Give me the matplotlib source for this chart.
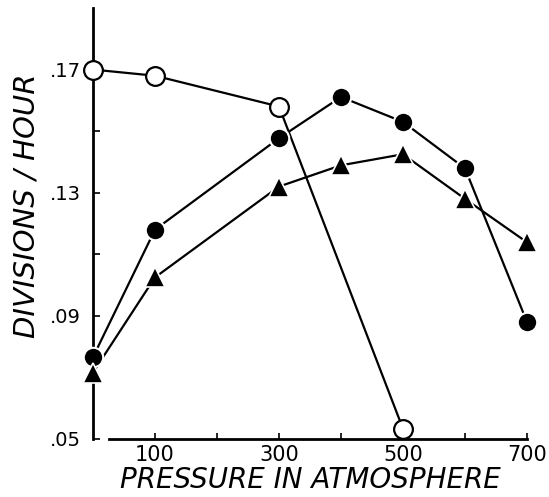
import matplotlib
matplotlib.use("Agg")
import matplotlib.pyplot as plt
from matplotlib.ticker import FixedLocator, FixedFormatter

# pressure (atm) and division rates
pressure = [0, 100, 300, 400, 500, 600, 700]

open_x = [0, 100, 300, 500]
open_y = [0.170, 0.168, 0.158, 0.0533]

filled_circle_y = [0.0766, 0.118, 0.1477, 0.1611, 0.153, 0.1379, 0.088]
triangle_y = [0.0716, 0.1025, 0.132, 0.1389, 0.1425, 0.128, 0.1139]

x_major = [100, 300, 500, 700]
x_minor = [200, 400, 600]
y_major = [0.05, 0.09, 0.13, 0.17]
y_minor = [0.07, 0.11, 0.15]
y_labels = [".05", ".09", ".13", ".17"]


def main():
    fig = plt.figure(figsize=(5.49, 4.97), dpi=100)
    ax = fig.add_axes([93 / 549, 58 / 497, 434 / 549, 431 / 497])
    ax.set_xlim(0, 700)
    ax.set_ylim(0.05, 0.19)

    lw = 1.6
    ax.plot(pressure, filled_circle_y, color="black", lw=lw, zorder=2, clip_on=False)
    ax.plot(pressure, triangle_y, color="black", lw=lw, zorder=2, clip_on=False)
    ax.plot(open_x, open_y, color="black", lw=lw, zorder=2, clip_on=False)

    ax.plot(pressure, filled_circle_y, "o", ms=14, mfc="black", mec="white",
            mew=1.5, zorder=3, clip_on=False)
    ax.plot(pressure, triangle_y, "^", ms=14, mfc="black", mec="white",
            mew=1.2, zorder=3, clip_on=False)
    ax.plot(open_x, open_y, "o", ms=13.5, mfc="white", mec="black",
            mew=1.6, zorder=4, clip_on=False)

    for s in ["top", "right"]:
        ax.spines[s].set_visible(False)
    ax.spines["left"].set_linewidth(2.0)
    ax.spines["bottom"].set_linewidth(2.0)
    ax.spines["bottom"].set_bounds(25, 700)

    ax.xaxis.set_major_locator(FixedLocator(x_major))
    ax.xaxis.set_minor_locator(FixedLocator(x_minor))
    ax.yaxis.set_major_locator(FixedLocator(y_major))
    ax.yaxis.set_minor_locator(FixedLocator(y_minor))
    ax.yaxis.set_major_formatter(FixedFormatter(y_labels))

    ax.tick_params(axis="both", which="both", direction="in", length=5,
                   width=1.2, labelsize=15)
    ax.tick_params(axis="x", which="both", length=4, pad=4)
    ax.tick_params(axis="y", labelsize=14, pad=9)

    fig.text(27 / 549, 1 - 206 / 497, "DIVISIONS / HOUR", rotation=90,
             ha="center", va="center", fontsize=21, style="italic")
    fig.text(310 / 549, 1 - 480 / 497, "PRESSURE IN ATMOSPHERE",
             ha="center", va="center", fontsize=20, style="italic")

    fig.savefig("out.png", dpi=100)


if __name__ == "__main__":
    main()
